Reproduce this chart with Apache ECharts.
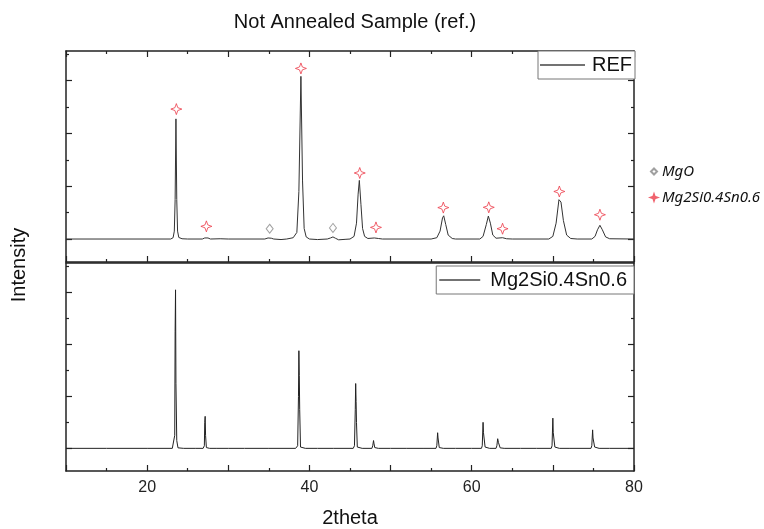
<!DOCTYPE html>
<html>
<head>
<meta charset="utf-8">
<script src="https://cdn.jsdelivr.net/npm/echarts@6/dist/echarts.min.js"></script>
<style>html,body{margin:0;padding:0;background:#fff}#c{width:764px;height:529px}</style>
</head>
<body>
<div id="c"></div>
<script>
// ---- data (2theta, intensity in arbitrary units, baseline = 0) ----
const refPattern = [
  [10,0],[22.9,0],[23.2,0.05],[23.35,0.3],[23.45,1.5],[23.55,4.55],[23.65,1.5],[23.75,0.3],[23.9,0.06],[24.3,0.01],
  [25,0],[26.8,0],[27.1,0.04],[27.3,0.1],[27.5,0.04],[27.8,0],[29,0.01],[30,0],[34.5,0],[34.9,0.04],[35.1,0.05],
  [35.3,0.03],[35.6,0],[36.5,-0.02],[37.2,0],[38.0,0.05],[38.45,0.25],[38.7,1.8],[38.95,6.16],[39.15,2.2],[39.35,0.4],
  [39.6,0.08],[40,0],[41,-0.02],[42.2,0],[42.6,0.04],[42.9,0.08],[43.2,0.03],[43.6,-0.03],[44.5,-0.01],[45.0,0],
  [45.5,0.1],[45.8,0.6],[46.0,1.7],[46.15,2.22],[46.35,1.3],[46.55,0.4],[46.8,0.1],[47.2,0.02],[48.0,0.04],
  [48.2,0.06],[48.5,0.02],[49,0],[55,0],[55.7,0.05],[56.1,0.3],[56.4,0.8],[56.55,0.88],[56.8,0.55],[57.1,0.15],
  [57.6,0.02],[58,0],[61,0],[61.4,0.1],[61.8,0.55],[62.05,0.87],[62.3,0.6],[62.6,0.15],[63,0.03],[63.8,0.05],
  [64.3,0.01],[65,0],[69.5,0],[70.0,0.1],[70.4,0.6],[70.75,1.49],[71.0,1.4],[71.3,0.7],[71.7,0.15],[72.2,0.02],
  [73,0],[74.8,0],[75.2,0.1],[75.5,0.35],[75.8,0.52],[76.1,0.35],[76.5,0.08],[77,0.01],[80,0]
];
const samplePattern = [
  [10,0],[15,0],[20,0],[23.1,0],[23.3,0.06],[23.4,0.5],[23.45,4.5],[23.5,6.09],[23.55,2.5],[23.65,0.3],[23.8,0.02],
  [24.0,0],[24.5,0],[26,0],[26.9,0],[27.05,0.1],[27.1,1.0],[27.15,1.23],[27.2,0.5],[27.3,0.03],[27.4,0],[27.7,0],
  [28.5,0],[30,0],[32,0],[35,0],[38.3,0],[38.55,0.1],[38.65,2.0],[38.7,3.75],[38.75,2.8],[38.8,1.5],[38.9,0.05],
  [39.0,0],[39.5,0],[41,0],[43,0],[45.4,0],[45.55,0.1],[45.65,1.5],[45.7,2.49],[45.75,1.8],[45.8,1.0],[45.9,0.05],
  [46.0,0],[46.5,0],[47.7,0],[47.8,0.1],[47.9,0.3],[47.95,0.2],[48.05,0.03],[48.15,0],[48.5,0],[50,0],[52,0],
  [54,0],[55.6,0],[55.7,0.1],[55.8,0.6],[55.85,0.4],[55.9,0.35],[56.0,0.03],[56.1,0],[56.5,0],[58,0],[60,0],
  [61.2,0],[61.3,0.1],[61.4,1.0],[61.45,0.6],[61.55,0.55],[61.65,0.05],[61.75,0],[62.2,0],[63.0,0],[63.1,0.1],
  [63.2,0.37],[63.3,0.22],[63.4,0.15],[63.5,0.02],[63.6,0],[64,0],[66,0],[68,0],[69.8,0],[69.9,0.1],[70.0,1.16],
  [70.05,0.6],[70.15,0.55],[70.25,0.05],[70.35,0],[70.8,0],[72,0],[74.7,0],[74.8,0.1],[74.9,0.71],[74.95,0.4],
  [75.05,0.38],[75.15,0.05],[75.25,0],[75.7,0],[77,0],[80,0]
];
const mg2siMarkX = [23.6, 27.3, 38.95, 46.2, 48.2, 56.5, 62.1, 63.8, 70.8, 75.8];
const mg2siMarkY = [4.92, 0.48, 6.46, 2.5, 0.44, 1.19, 1.2, 0.39, 1.8, 0.92];
const mgoMarkX = [35.1, 42.9];
const mgoMarkY = [0.39, 0.42];
const xTickLabels = [20, 40, 60, 80];
const yMajorTicks = [0, 2, 4, 6];
const yMinorTicks = [1, 3, 5, 7];

const STAR = 'path://M0,-10 L2.6,-2.6 L10,0 L2.6,2.6 L0,10 L-2.6,2.6 L-10,0 L-2.6,-2.6 Z';
const AX = '#222';
const FONT = 'Liberation Sans';
const YMIN = -0.87, YMAX = 7.12;

function xAx(grid, pos, opts) {
  return Object.assign({
    type: 'value', gridIndex: grid, position: pos, min: 10, max: 80, interval: 10,
    axisLine: {show: true, onZero: false, lineStyle: {color: AX, width: 1.5}},
    axisTick: {show: true, inside: true, length: 6, lineStyle: {color: AX, width: 1.2}},
    minorTick: {show: true, splitNumber: 2, length: 3, lineStyle: {color: AX, width: 1.2}},
    axisLabel: {show: false},
    splitLine: {show: false}
  }, opts || {});
}
function yAx(grid, pos, ticks, len, line) {
  return {
    type: 'value', gridIndex: grid, position: pos, min: YMIN, max: YMAX,
    axisLine: {show: line, onZero: false, lineStyle: {color: AX, width: 1.5}},
    axisTick: {show: true, inside: true, length: len, customValues: ticks, lineStyle: {color: AX, width: 1.2}},
    axisLabel: {show: false},
    splitLine: {show: false}
  };
}

const chart = echarts.init(document.getElementById('c'));
chart.setOption({
  animation: false,
  backgroundColor: '#fff',
  title: {
    text: 'Not Annealed Sample (ref.)', left: 355, top: 12, textAlign: 'center', padding: 0,
    textStyle: {fontFamily: FONT, fontSize: 20, fontWeight: 'normal', color: '#111'}
  },
  grid: [
    {left: 66, right: 130, top: 51, height: 211},
    {left: 66, right: 130, top: 263, height: 211}
  ],
  xAxis: [
    xAx(0, 'bottom'),
    xAx(0, 'top'),
    xAx(1, 'bottom', {
      axisLabel: {show: true, customValues: xTickLabels, margin: 9, fontFamily: FONT, fontSize: 16, color: '#222'},
      name: '2theta', nameLocation: 'middle', nameGap: 37,
      nameTextStyle: {fontFamily: FONT, fontSize: 20, color: '#111'}
    }),
    xAx(1, 'top', {axisTick: {show: false}, minorTick: {show: false}})
  ],
  yAxis: [
    yAx(0, 'left', yMajorTicks, 6, true),
    yAx(0, 'left', yMinorTicks, 3, false),
    yAx(0, 'right', yMajorTicks, 6, true),
    yAx(0, 'right', yMinorTicks, 3, false),
    yAx(1, 'left', yMajorTicks, 6, true),
    yAx(1, 'left', yMinorTicks, 3, false),
    yAx(1, 'right', yMajorTicks, 6, true),
    yAx(1, 'right', yMinorTicks, 3, false)
  ],
  legend: [
    {
      data: [{name: 'REF', icon: 'rect'}], right: 129, top: 51, orient: 'horizontal',
      padding: [3, 3, 3, 2], borderColor: '#777', borderWidth: 1, backgroundColor: '#fff',
      itemWidth: 45, itemHeight: 1.3,
      itemStyle: {color: '#444', borderWidth: 0},
      textStyle: {fontFamily: FONT, fontSize: 20, color: '#111', padding: [0, 0, 0, 2], lineHeight: 22}
    },
    {
      data: [{name: 'Mg2Si0.4Sn0.6 pattern', icon: 'rect'}], right: 130, top: 266, orient: 'horizontal',
      padding: [3, 7, 3, 3], borderColor: '#777', borderWidth: 1, backgroundColor: '#fff',
      itemWidth: 41, itemHeight: 1.3,
      itemStyle: {color: '#444', borderWidth: 0},
      formatter: function () { return 'Mg2Si0.4Sn0.6'; },
      textStyle: {fontFamily: FONT, fontSize: 20, color: '#111', padding: [0, 0, 0, 5], lineHeight: 22}
    },
    {
      data: ['MgO', 'Mg2Si0.4Sn0.6'], left: 650, top: 164, orient: 'vertical',
      padding: 0, itemGap: 11, itemWidth: 6, itemHeight: 6,
      textStyle: {fontFamily: 'Noto Sans', fontStyle: 'italic', fontSize: 15, color: '#111'}
    }
  ],
  graphic: [{
    type: 'text', x: 19, y: 265, rotation: Math.PI / 2,
    style: {text: 'Intensity', fontFamily: FONT, fontSize: 20, fill: '#111', align: 'center', verticalAlign: 'middle'}
  }],
  series: [
    {
      name: 'REF', type: 'line', xAxisIndex: 0, yAxisIndex: 0, data: refPattern,
      symbol: 'none', smooth: false, lineStyle: {color: '#333', width: 1}, itemStyle: {color: '#333'}
    },
    {
      name: 'MgO', type: 'scatter', xAxisIndex: 0, yAxisIndex: 0,
      data: mgoMarkX.map((x, i) => [x, mgoMarkY[i]]),
      symbol: 'diamond', symbolSize: [7, 9],
      itemStyle: {color: '#fff', borderColor: '#888', borderWidth: 1}
    },
    {
      name: 'Mg2Si0.4Sn0.6', type: 'scatter', xAxisIndex: 0, yAxisIndex: 0,
      data: mg2siMarkX.map((x, i) => [x, mg2siMarkY[i]]),
      symbol: STAR, symbolSize: 11,
      itemStyle: {color: '#fff', borderColor: '#ec3c4a', borderWidth: 1}
    },
    {
      name: 'Mg2Si0.4Sn0.6 pattern', type: 'line', xAxisIndex: 2, yAxisIndex: 4, data: samplePattern,
      symbol: 'none', smooth: false, lineStyle: {color: '#222', width: 1}, itemStyle: {color: '#222'}
    }
  ]
});
</script>
</body>
</html>
